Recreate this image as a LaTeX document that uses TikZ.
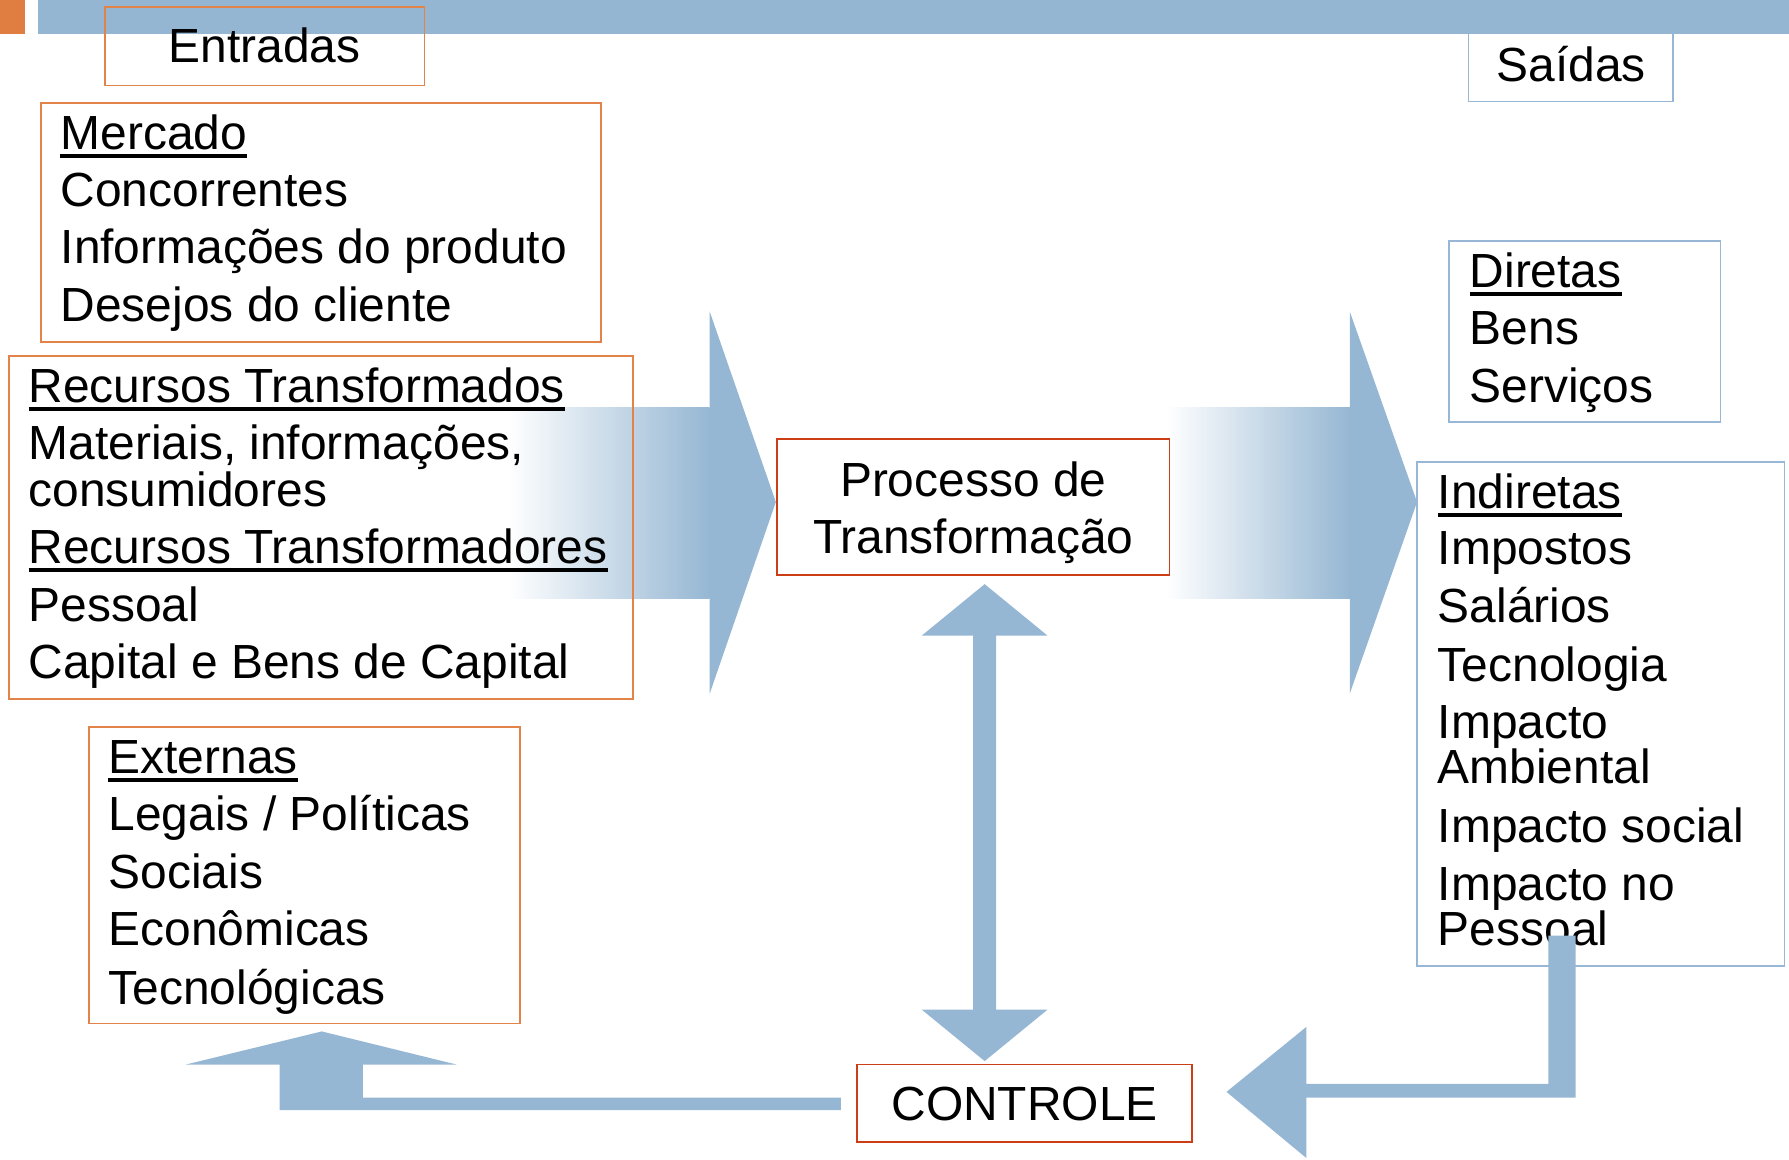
\documentclass[tikz,border=0pt]{standalone}
\usepackage{fontspec}
\setmainfont{Liberation Sans}
\definecolor{barblue}{RGB}{148,182,210}
\definecolor{arrblue}{RGB}{150,183,211}
\definecolor{orangeline}{RGB}{226,131,74}
\definecolor{redline}{RGB}{204,62,22}
\definecolor{blueline}{RGB}{152,182,214}
\definecolor{orangesq}{RGB}{224,126,66}
\newcommand\bigfs{\fontsize{42}{40}\selectfont}
\tikzset{
  txt/.style={inner sep=0pt, anchor=base west, font=\bigfs, yshift=-2pt},
  ctxt/.style={inner sep=0pt, anchor=base, font=\bigfs, yshift=-2pt},
  obox/.style={draw=orangeline, line width=1.6pt},
  rbox/.style={draw=redline, line width=1.6pt},
  bbox/.style={draw=blueline, line width=1.6pt},
  ul/.style={line width=3.5pt},
  blk/.style={fill=arrblue},
}
\newcommand\uln[1]{\draw[ul] ([yshift=-5.5pt]#1.base west) -- ([yshift=-5.5pt]#1.base east);}
\begin{document}
\begin{tikzpicture}[x=1pt,y=-1pt]
\useasboundingbox (0,0) rectangle (1568,1016);
% header
\node[bbox, minimum width=179pt, minimum height=70pt] (saidasBox) at (1376.5,54) {};
\fill[orangesq] (0,0) rectangle (22,30);
\fill[barblue] (33,0) rectangle (1568,30);
\node[obox, minimum width=280pt, minimum height=69pt] (entradasBox) at (232,40.5) {};
\node[ctxt] (entradas) at (232,53) {Entradas};
\node[ctxt] (saidas) at (1377,69) {Saídas};

% big arrows
\shade[left color=white, right color=arrblue] (445,357) rectangle (622,525);
\fill[arrblue] (622,273) -- (680,440) -- (622,608) -- cycle;
\shade[left color=white, right color=arrblue] (1022,357) rectangle (1183,525);
\fill[arrblue] (1183,273) -- (1242,440) -- (1183,608) -- cycle;

% boxes
\node[obox, minimum width=491pt, minimum height=210pt] (mercadoBox) at (281.5,195) {};
\node[obox, minimum width=547pt, minimum height=301pt] (recursosBox) at (281.5,462.5) {};
\node[rbox, minimum width=344pt, minimum height=119pt] (processoBox) at (853,444.5) {};
\node[bbox, minimum width=238pt, minimum height=159pt] (diretasBox) at (1389,290.5) {};
\node[bbox, minimum width=322pt, minimum height=442pt] (indiretasBox) at (1403,626) {};
\node[obox, minimum width=378pt, minimum height=260pt] (externasBox) at (267,767) {};
\node[rbox, minimum width=294pt, minimum height=68pt] (controleBox) at (898,967) {};

% Mercado
\node[txt] (m1) at (53,129) {Mercado}; \uln{m1}
\node[txt] (m2) at (53,179) {Concorrentes};
\node[txt] (m3) at (53,229) {Informações do produto};
\node[txt] (m4) at (53,280) {Desejos do cliente};
% Recursos
\node[txt] (r1) at (25,351) {Recursos Transformados}; \uln{r1}
\node[txt] (r2) at (25,401) {Materiais, informações,};
\node[txt] (r3) at (25,442) {consumidores};
\node[txt] (r4) at (25,492) {Recursos Transformadores}; \uln{r4}
\node[txt] (r5) at (25,543) {Pessoal};
\node[txt] (r6) at (25,593) {Capital e Bens de Capital};
% Processo
\node[ctxt] (p1) at (853,433) {Processo de};
\node[ctxt] (p2) at (853,483) {Transformação};
% Diretas
\node[txt] (d1) at (1288,250) {Diretas}; \uln{d1}
\node[txt] (d2) at (1288,300) {Bens};
\node[txt] (d3) at (1288,350.5) {Serviços};
% Indiretas
\node[txt] (i1) at (1260,444) {Indiretas}; \uln{i1}
\node[txt] (i2) at (1260,493) {Impostos};
\node[txt] (i3) at (1260,544) {Salários};
\node[txt] (i4) at (1260,595) {Tecnologia};
\node[txt] (i5) at (1260,645) {Impacto};
\node[txt] (i6) at (1260,685) {Ambiental};
\node[txt] (i7) at (1260,736) {Impacto social};
\node[txt] (i8) at (1260,787) {Impacto no};
\node[txt] (i9) at (1260,827) {Pessoal};
% Externas
\node[txt] (e1) at (95,676) {Externas}; \uln{e1}
\node[txt] (e2) at (95,726) {Legais / Políticas};
\node[txt] (e3) at (95,777) {Sociais};
\node[txt] (e4) at (95,827) {Econômicas};
\node[txt] (e5) at (95,878) {Tecnológicas};
% Controle
\node[ctxt] (controle) at (898,980) {CONTROLE};

% double vertical arrow
\fill[blk] (863,512) -- (918,557) -- (873,557) -- (873,885) -- (918,885) -- (863,930)
  -- (808,885) -- (853,885) -- (853,557) -- (808,557) -- cycle;
% bent arrow to Externas
\fill[blk] (737,962) -- (318,962) -- (318,933) -- (400,933) -- (282,904) -- (163,933)
  -- (245,933) -- (245,973) -- (737,973) -- cycle;
% bent arrow from Indiretas to Controle
\fill[blk] (1357,820) -- (1381,820) -- (1381,962) -- (1145,962) -- (1145,1015) -- (1075,957)
  -- (1145,900) -- (1145,950) -- (1357,950) -- cycle;
\end{tikzpicture}
\end{document}
